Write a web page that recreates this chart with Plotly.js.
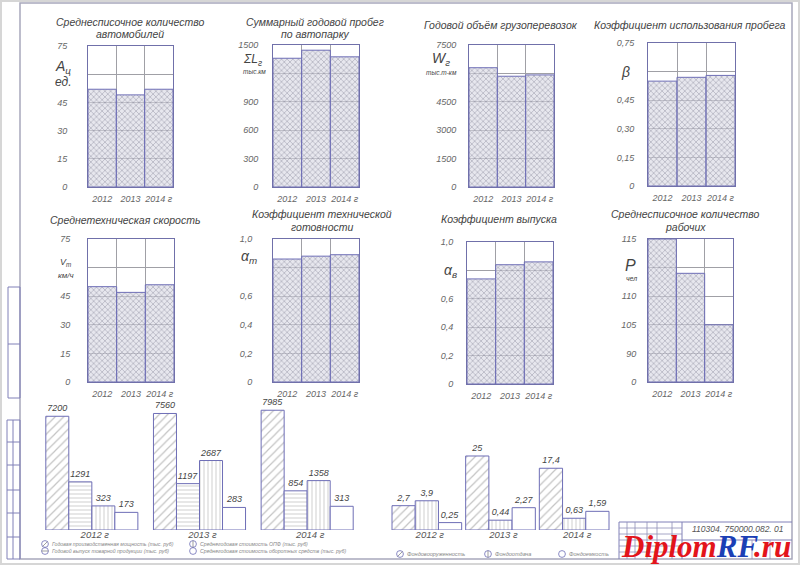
<!DOCTYPE html>
<html><head><meta charset="utf-8">
<script src="https://cdn.plot.ly/plotly-3.0.1.min.js"></script>
<style>html,body{margin:0;padding:0;background:#fff}#chart{width:800px;height:565px}</style>
</head><body><div id="chart"></div>
<script>
// ---------- DATA ----------
const years = ['2012', '2013', '2014 г'];
const carsCount = [52, 49, 52];              // Среднесписочное количество автомобилей, ед.
const annualMileage = [1360, 1445, 1375];    // Суммарный годовой пробег, тыс. км
const freightVolume = [6300, 5850, 5920];    // Годовой объём грузоперевозок, тыс. т-км
const mileageUseCoef = [0.55, 0.57, 0.58];   // Коэффициент использования пробега
const techSpeed = [50, 47, 51];              // Среднетехническая скорость, км/ч
const techReadyCoef = [0.86, 0.88, 0.89];    // Коэффициент технической готовности
const releaseCoef = [0.74, 0.84, 0.86];      // Коэффициент выпуска
const workersCount = [115, 112, 105];        // Среднесписочное количество рабочих, чел

const ticksCars = [0, 15, 30, 45, 60, 75];
const ticksCarsText = ['0', '15', '30', '45', ' ', '75'];
const ticksMileage = [0, 300, 600, 900, 1200, 1500];
const ticksMileageText = ['0', '300', '600', '900', ' ', '1500'];
const ticksFreight = [0, 1500, 3000, 4500, 6000, 7500];
const ticksFreightText = ['0', '1500', '3000', '4500', ' ', '7500'];
const ticksBeta = [0, 0.15, 0.30, 0.45, 0.60, 0.75];
const ticksBetaText = ['0', '0,15', '0,30', '0,45', ' ', '0,75'];
const ticksSpeed = [0, 15, 30, 45, 60, 75];
const ticksSpeedText = ['0', '15', '30', '45', ' ', '75'];
const ticksCoef = [0, 0.2, 0.4, 0.6, 0.8, 1.0];
const ticksCoefText = ['0', '0,2', '0,4', '0,6', ' ', '1,0'];
const ticksWorkers = [0, 90, 105, 110, 112.5, 115];   // broken (non-linear) axis as drawn
const ticksWorkersText = ['0', '90', '105', '110', ' ', '115'];

const groupYears = ['2012 г', '2013 г', '2014 г'];
const prodCapacity = [7200, 7560, 7985];       // Годовая производственная мощность
const productOutput = [1291, 1197, 854];       // Годовой выпуск товарной продукции
const fixedAssetsCost = [323, 2687, 1358];     // Среднегодовая стоимость ОПФ
const workingCapitalCost = [173, 283, 313];    // Среднегодовая стоимость оборотных средств
const capitalLaborRatio = [2.7, 25, 17.4];     // Фондовооруженность
const capitalProductivity = [3.9, 0.44, 0.63]; // Фондоотдача
const capitalIntensity = [0.25, 2.27, 1.59];   // Фондоемкость

// ---------- HELPERS ----------
const W = 800, H = 565;
const px = x => x / W, py = y => 1 - y / H;
const FONT = 'Liberation Sans, Arial, sans-serif';
const LINE = '#7070aa', GRID = '#a0a0a6', BARLINE = '#6e6eb6';
const fmt = v => String(v).replace('.', ',');
const sqrtScale = v => Math.sqrt(v);
function brokenScale(ticks) {
  return v => {
    for (let i = 1; i < ticks.length; i++) {
      if (v <= ticks[i]) return (i - 1) + (v - ticks[i - 1]) / (ticks[i] - ticks[i - 1]);
    }
    return ticks.length - 1;
  };
}
const ident = v => v;

const panels = [
  {vals: carsCount, ticks: ticksCars, text: ticksCarsText, box: [88, 46, 173, 187], standoff: 18,
   title: [['Среднесписочное количество', 130, 22], ['автомобилей', 130, 34]],
   labels: [['A<sub>ц</sub>', 63, 67, 14], ['ед.', 63, 82, 12]]},
  {vals: annualMileage, ticks: ticksMileage, text: ticksMileageText, box: [273, 45, 359, 187], standoff: 12,
   title: [['Суммарный годовой пробег', 315, 22], ['по автопарку', 315, 34]],
   labels: [['ΣL<sub>г</sub>', 253, 60, 12], ['тыс.км', 255, 71, 6.5]]},
  {vals: freightVolume, ticks: ticksFreight, text: ticksFreightText, box: [469, 45, 554, 187], standoff: 10,
   title: [['Годовой объём грузоперевозок', 501, 25]],
   labels: [['W<sub>г</sub>', 441, 59, 14], ['тыс.т-км', 441, 72, 6.5]]},
  {vals: mileageUseCoef, ticks: ticksBeta, text: ticksBetaText, box: [648, 43, 735, 186], standoff: 11,
   title: [['Коэффициент использования пробега', 690, 25]],
   labels: [['β', 625, 72, 14]]},
  {vals: techSpeed, ticks: ticksSpeed, text: ticksSpeedText, box: [88, 239, 174, 382], standoff: 15,
   title: [['Среднетехническая скорость', 125, 220]],
   labels: [['V<sub>т</sub>', 65, 262, 9], ['км/ч', 66, 275, 8]]},
  {vals: techReadyCoef, ticks: ticksCoef, text: ticksCoefText, box: [273, 239, 359, 382], standoff: 18,
   title: [['Коэффициент технической', 322, 214], ['готовности', 322, 227]],
   labels: [['α<sub>т</sub>', 249, 257, 14]]},
  {vals: releaseCoef, ticks: ticksCoef, text: ticksCoefText, box: [467, 242, 553, 384], standoff: 11,
   title: [['Коэффициент выпуска', 499, 219]],
   labels: [['α<sub>в</sub>', 450, 271, 14]]},
  {vals: workersCount, ticks: ticksWorkers, text: ticksWorkersText, box: [648, 239, 733, 382], standoff: 9,
   scale: brokenScale(ticksWorkers),
   title: [['Среднесписочное количество', 685, 214], ['рабочих', 685, 227]],
   labels: [['P', 630, 265, 16], ['чел', 631, 279, 7]]}
];

const data = [];
const layout = {
  width: W, height: H, margin: {l: 0, r: 0, t: 0, b: 0},
  paper_bgcolor: '#fff', plot_bgcolor: 'rgba(0,0,0,0)',
  showlegend: false, barmode: 'overlay',
  font: {family: FONT, color: '#555', style: 'italic'},
  annotations: [], shapes: []
};
const tickFont = {family: FONT, size: 9, color: '#666', style: 'italic'};

function ann(text, x, y, size, opts) {
  layout.annotations.push(Object.assign({
    text, x: px(x), y: py(y), xref: 'paper', yref: 'paper', showarrow: false,
    xanchor: 'center', yanchor: 'middle',
    font: {family: FONT, size, color: '#444', style: 'italic'}
  }, opts || {}));
}

panels.forEach((p, i) => {
  const n = i + 1, s = n === 1 ? '' : String(n);
  const map = p.scale || ident;
  data.push({
    type: 'bar', x: [0, 1, 2], y: p.vals.map(map), width: 1,
    xaxis: 'x' + s, yaxis: 'y' + s, hoverinfo: 'skip',
    marker: {color: 'rgba(215,215,226,0.6)', line: {color: BARLINE, width: 1},
      pattern: {shape: 'x', size: 4, solidity: 0.32, fgcolor: '#74748a', bgcolor: 'rgba(215,215,226,0.6)', fillmode: 'overlay'}}
  });
  layout['xaxis' + s] = {
    domain: [px(p.box[0]), px(p.box[2])], anchor: 'y' + s, range: [-0.5, 2.5],
    tickmode: 'array', tickvals: [0, 1, 2], ticktext: years, ticks: '', tickangle: 0,
    showgrid: false, zeroline: false, showline: true, mirror: true, linecolor: LINE, linewidth: 1,
    tickfont: tickFont, ticklabelstandoff: 3, fixedrange: true,
    minor: {tickmode: 'array', tickvals: [0.5, 1.5], showgrid: true, gridcolor: GRID, gridwidth: 1, ticks: ''}
  };
  layout['yaxis' + s] = {
    domain: [py(p.box[3]), py(p.box[1])], anchor: 'x' + s,
    range: [map(p.ticks[0]), map(p.ticks[p.ticks.length - 1])],
    tickmode: 'array', tickvals: p.ticks.map(map), ticktext: p.text, ticks: '',
    showgrid: true, gridcolor: GRID, gridwidth: 1, zeroline: false,
    showline: true, mirror: true, linecolor: LINE, linewidth: 1,
    tickfont: tickFont, ticklabelstandoff: p.standoff, fixedrange: true
  };
  p.title.forEach(t => ann(t[0], t[1], t[2], 10.5));
  p.labels.forEach(l => ann(l[0], l[1], l[2], l[3]));
});

// ---------- bottom grouped charts (square-root value scale, as drawn) ----------
const bottom = [
  {n: 9, box: [38, 400, 361, 530], range: 97,
   series: [[prodCapacity, '/'], [productOutput, '-'], [fixedAssetsCost, '|'], [workingCapitalCost, '']],
   bw: 0.2138},
  {n: 10, box: [390, 440, 611, 530], range: 6.08,
   series: [[capitalLaborRatio, '/'], [capitalProductivity, '|'], [capitalIntensity, '']],
   bw: 0.3152}
];
bottom.forEach(b => {
  const s = String(b.n), k = b.series.length;
  b.series.forEach((sr, j) => {
    data.push({
      type: 'bar', x: [0, 1, 2], y: sr[0].map(sqrtScale), text: sr[0].map(fmt),
      textposition: 'outside', constraintext: 'none', cliponaxis: false,
      textfont: {family: FONT, size: 9, color: '#444', style: 'italic'},
      width: b.bw, offset: -b.bw * k / 2 + j * b.bw,
      xaxis: 'x' + s, yaxis: 'y' + s, hoverinfo: 'skip',
      marker: {color: '#ffffff', line: {color: BARLINE, width: 1},
        pattern: {shape: sr[1], size: sr[1] === '/' ? 6 : 4, solidity: 0.2, fgcolor: '#888888', bgcolor: '#ffffff', fillmode: 'overlay'}}
    });
  });
  layout['xaxis' + s] = {
    domain: [px(b.box[0]), px(b.box[2])], anchor: 'y' + s, range: [-0.5, 2.5],
    tickmode: 'array', tickvals: [0, 1, 2], ticktext: groupYears, ticks: '', tickangle: 0,
    showgrid: false, zeroline: false, showline: false, fixedrange: true,
    tickfont: {family: FONT, size: 9.5, color: '#555', style: 'italic'}, ticklabelstandoff: -3, ticklabelshift: 3
  };
  layout['yaxis' + s] = {
    domain: [py(b.box[3]), py(b.box[1])], anchor: 'x' + s, range: [0, b.range],
    visible: false, fixedrange: true
  };
});

// ---------- drawing frame & decorations ----------
function line(x0, y0, x1, y1, color, w) {
  layout.shapes.push({type: 'line', xref: 'paper', yref: 'paper', x0: px(x0), y0: py(y0), x1: px(x1), y1: py(y1),
    line: {color: color || '#8080b8', width: w || 1}});
}
function rect(x0, y0, x1, y1, color, w) {
  layout.shapes.push({type: 'rect', xref: 'paper', yref: 'paper', x0: px(x0), y0: py(y0), x1: px(x1), y1: py(y1),
    line: {color: color || '#8080b8', width: w || 1}});
}
rect(0.5, 0.5, 799.5, 564.5, '#d6d6d6', 3);
rect(20, 3, 792, 559, '#a8a8bc', 1.5);
// left stamp
rect(8, 287, 20, 398); line(8, 344, 20, 344);
rect(7, 420, 20, 559); line(13, 420, 13, 559);
[442, 465, 490, 513, 537].forEach(y => line(7, y, 20, y));
// title block
line(619, 522, 792, 522); line(619, 522, 619, 559);
[627, 635, 647, 657, 672].forEach(x => line(x, 522, x, 559, '#9090b8', 0.8));
line(682, 522, 682, 559);
[528, 534, 540, 546, 552].forEach(y => line(619, y, 682, y, '#9090b8', 0.8));
line(682, 540, 792, 540); line(752, 540, 752, 559, '#9090b8', 0.8); line(770, 540, 770, 559, '#9090b8', 0.8);
ann('110304. 750000.082. 01', 738, 529, 8.5, {font: {family: FONT, size: 8.5, color: '#555', style: 'italic'}});

// legends
function legendItem(cx, cy, hatch, label, size) {
  const r = 3.4;
  layout.shapes.push({type: 'circle', xref: 'paper', yref: 'paper',
    x0: px(cx - r), x1: px(cx + r), y0: py(cy + r), y1: py(cy - r), line: {color: '#6e6eb6', width: 0.8}});
  const d = r * 0.7;
  if (hatch === '/') line(cx - d, cy + d, cx + d, cy - d, '#777', 0.7);
  if (hatch === '-') line(cx - r, cy, cx + r, cy, '#777', 0.7);
  if (hatch === '|') line(cx, cy - r, cx, cy + r, '#777', 0.7);
  ann(label, cx + 5, cy, size, {xanchor: 'left', font: {family: FONT, size, color: '#888', style: 'italic'}});
}
legendItem(45, 544, '/', 'Годовая производственная мощность (тыс. руб)', 5.2);
legendItem(45, 551, '-', 'Годовой выпуск товарной продукции (тыс. руб)', 5.2);
legendItem(193, 544, '|', 'Среднегодовая стоимость ОПФ (тыс. руб)', 5.2);
legendItem(193, 551, '', 'Среднегодовая стоимость оборотных средств (тыс. руб)', 5.2);
legendItem(400, 554, '/', 'Фондовооруженность', 5.6);
legendItem(488, 554, '|', 'Фондоотдача', 5.6);
legendItem(562, 554, '', 'Фондоемкость', 5.6);

// watermark
layout.annotations.push({
  text: '<b><span style="color:#e3141b">Diplom</span><span style="color:#1b3fb5">RF</span><span style="color:#e3141b">.ru</span></b>',
  x: px(619), y: py(546), xref: 'paper', yref: 'paper', xanchor: 'left', yanchor: 'middle', showarrow: false,
  font: {family: 'Liberation Serif, DejaVu Serif, serif', size: 31, color: '#e3141b'}
});

Plotly.newPlot('chart', data, layout, {staticPlot: true, displayModeBar: false});
</script>
</body></html>
